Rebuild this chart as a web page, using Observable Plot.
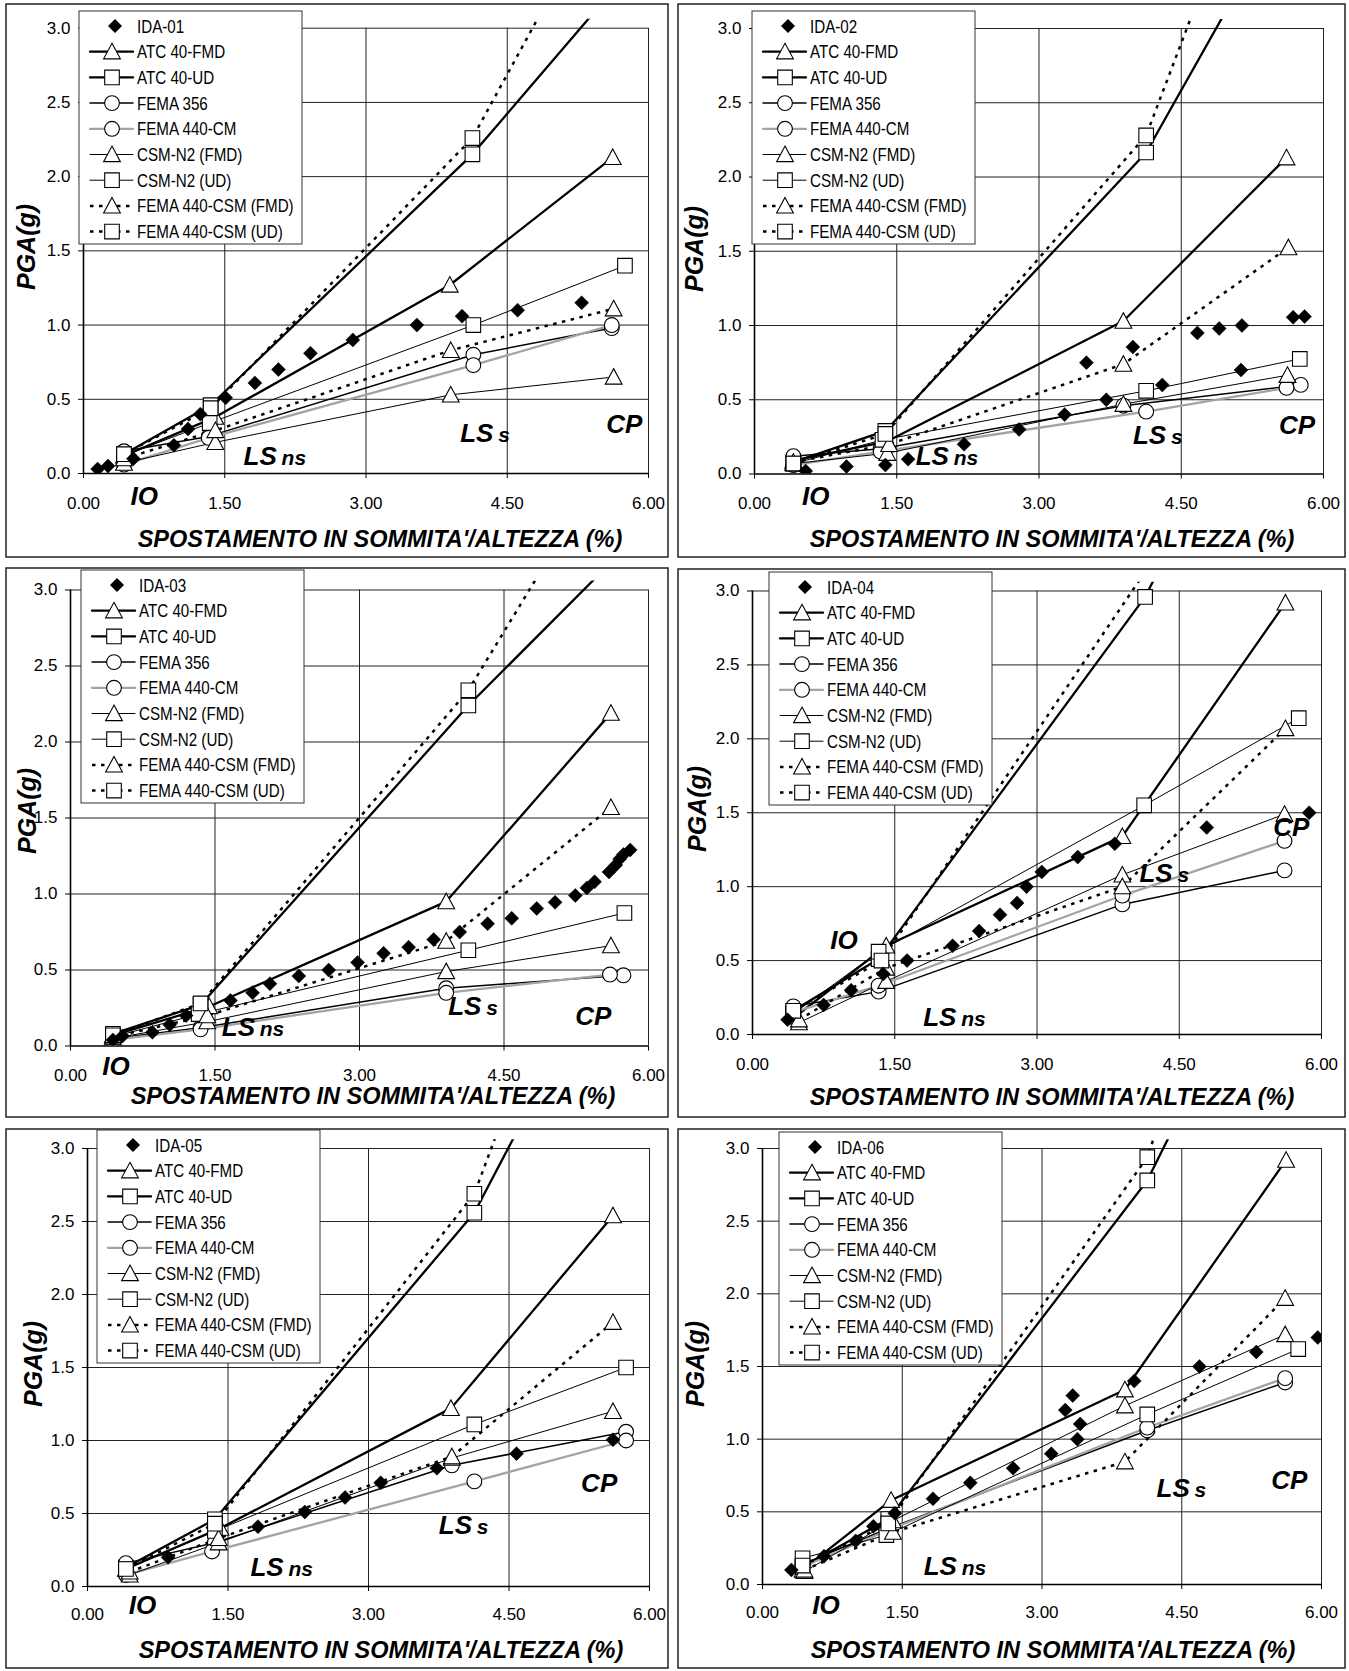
<!DOCTYPE html>
<html><head><meta charset="utf-8">
<script src="https://cdn.jsdelivr.net/npm/d3@7"></script>
<script src="https://cdn.jsdelivr.net/npm/@observablehq/plot@0.6"></script>
<style>
body{margin:0;background:#fff;}
#root{position:relative;width:1349px;height:1671px;background:#fff;overflow:hidden;}
.pl{position:absolute;}
#ov{position:absolute;left:0;top:0;pointer-events:none;}
</style></head><body><div id="root"></div>
<script>
// ---------------- DATA ----------------
const methodNames = ["ATC 40-FMD","ATC 40-UD","FEMA 356","FEMA 440-CM","CSM-N2 (FMD)","CSM-N2 (UD)","FEMA 440-CSM (FMD)","FEMA 440-CSM (UD)"];
const levelNames = ["IO","LSns","LSs","CP"];
const xTicks = [0, 1.5, 3, 4.5, 6];
const yTicks = [0, 0.5, 1, 1.5, 2, 2.5, 3];
const xTitle = "SPOSTAMENTO IN SOMMITA'/ALTEZZA (%)";
const yTitle = "PGA(g)";
const idaNames = ["IDA-01","IDA-02","IDA-03","IDA-04","IDA-05","IDA-06"];

// IDA curves (x = drift %, y = PGA g)
const ida01 = [[0.15,0.03],[0.26,0.05],[0.53,0.10],[0.96,0.19],[1.11,0.30],[1.24,0.40],[1.51,0.51],[1.82,0.61],[2.07,0.70],[2.41,0.81],[2.86,0.90],[3.54,1.00],[4.02,1.06],[4.61,1.10],[5.29,1.15]];
const ida02 = [[0.54,0.02],[0.97,0.05],[1.38,0.06],[1.62,0.10],[2.21,0.20],[2.79,0.30],[3.27,0.40],[3.71,0.50],[3.50,0.75],[3.99,0.855],[4.30,0.60],[4.67,0.95],[4.90,0.98],[5.14,1.00],[5.13,0.70],[5.68,1.055],[5.80,1.06]];
const ida03 = [[0.44,0.04],[0.54,0.066],[0.85,0.09],[1.03,0.14],[1.20,0.20],[1.66,0.30],[1.89,0.35],[2.07,0.41],[2.37,0.46],[2.68,0.50],[2.98,0.55],[3.25,0.61],[3.51,0.65],[3.77,0.70],[4.04,0.75],[4.33,0.805],[4.58,0.84],[4.84,0.905],[5.03,0.945],[5.24,0.99],[5.36,1.04],[5.44,1.08],[5.59,1.145],[5.66,1.19],[5.70,1.23],[5.74,1.26],[5.81,1.29]];
const ida04 = [[0.37,0.10],[0.75,0.20],[1.04,0.30],[1.38,0.41],[1.63,0.50],[2.11,0.60],[2.39,0.70],[2.61,0.81],[2.79,0.89],[2.89,1.00],[3.05,1.10],[3.43,1.20],[3.82,1.29],[4.79,1.40],[5.87,1.50]];
const ida05 = [[0.86,0.20],[1.82,0.41],[2.32,0.51],[2.75,0.61],[3.13,0.71],[3.73,0.81],[4.58,0.91],[5.61,1.005]];
const ida06 = [[0.31,0.10],[0.66,0.195],[1.00,0.30],[1.19,0.40],[1.42,0.49],[1.83,0.59],[2.23,0.70],[2.69,0.80],[3.10,0.90],[3.25,1.20],[3.33,1.30],[3.38,1.00],[3.41,1.105],[3.99,1.40],[4.69,1.50],[5.30,1.60],[5.96,1.70]];

// Performance points (IO, LSns, LSs, CP) per method, in methodNames order
const methods01 = [
  [[0.43,0.12],[1.40,0.38],[3.89,1.27],[5.62,2.13]],
  [[0.43,0.13],[1.35,0.46],[4.13,2.15],[5.75,3.35]],
  [[0.43,0.15],[1.33,0.25],[4.14,0.80],[5.61,0.98]],
  [[0.43,0.06],[1.33,0.24],[4.14,0.73],[5.61,1.00]],
  [[0.43,0.07],[1.40,0.21],[3.90,0.53],[5.63,0.65]],
  [[0.43,0.12],[1.34,0.34],[4.14,1.00],[5.75,1.40]],
  [[0.43,0.10],[1.40,0.29],[3.90,0.83],[5.63,1.11]],
  [[0.43,0.13],[1.35,0.44],[4.13,2.26],[5.75,4.14]]
];
const methods02 = [
  [[0.41,0.09],[1.40,0.22],[3.89,1.03],[5.61,2.13]],
  [[0.41,0.08],[1.38,0.29],[4.13,2.165],[5.75,4.00]],
  [[0.41,0.12],[1.33,0.17],[3.89,0.46],[5.76,0.60]],
  [[0.41,0.06],[1.33,0.15],[4.13,0.42],[5.61,0.58]],
  [[0.41,0.07],[1.40,0.14],[3.89,0.47],[5.62,0.665]],
  [[0.41,0.07],[1.35,0.23],[4.13,0.56],[5.75,0.775]],
  [[0.41,0.08],[1.42,0.20],[3.89,0.74],[5.63,1.525]],
  [[0.41,0.07],[1.38,0.27],[4.13,2.28],[5.75,5.00]]
];
const methods03 = [
  [[0.44,0.07],[1.44,0.26],[3.90,0.95],[5.61,2.19]],
  [[0.44,0.08],[1.35,0.27],[4.13,2.24],[5.75,3.27]],
  [[0.44,0.05],[1.35,0.12],[3.90,0.38],[5.74,0.465]],
  [[0.44,0.04],[1.35,0.11],[3.90,0.35],[5.60,0.47]],
  [[0.44,0.05],[1.42,0.16],[3.90,0.49],[5.61,0.66]],
  [[0.44,0.06],[1.33,0.21],[4.13,0.63],[5.75,0.875]],
  [[0.44,0.06],[1.42,0.20],[3.90,0.69],[5.61,1.57]],
  [[0.44,0.07],[1.35,0.28],[4.13,2.34],[5.75,4.03]]
];
const methods04 = [
  [[0.45,0.12],[1.41,0.60],[3.90,1.34],[5.62,2.92]],
  [[0.43,0.16],[1.33,0.51],[4.14,2.96],[5.75,5.00]],
  [[0.43,0.19],[1.33,0.29],[3.90,0.88],[5.61,1.11]],
  [[0.43,0.15],[1.33,0.33],[3.90,0.94],[5.61,1.31]],
  [[0.49,0.08],[1.41,0.36],[3.90,1.08],[5.61,1.49]],
  [[0.43,0.14],[1.33,0.56],[4.13,1.55],[5.76,2.14]],
  [[0.49,0.10],[1.41,0.45],[3.90,1.00],[5.62,2.07]],
  [[0.43,0.16],[1.36,0.50],[4.13,3.12],[5.75,6.00]]
];
const methods05 = [
  [[0.41,0.12],[1.42,0.40],[3.88,1.22],[5.61,2.54]],
  [[0.41,0.13],[1.36,0.46],[4.13,2.56],[5.75,4.54]],
  [[0.41,0.16],[1.36,0.30],[3.89,0.83],[5.75,1.06]],
  [[0.41,0.08],[1.33,0.24],[4.13,0.72],[5.75,1.00]],
  [[0.45,0.08],[1.40,0.30],[3.89,0.88],[5.61,1.20]],
  [[0.41,0.12],[1.36,0.38],[4.13,1.11],[5.75,1.50]],
  [[0.45,0.10],[1.40,0.33],[3.89,0.89],[5.61,1.81]],
  [[0.41,0.12],[1.36,0.43],[4.13,2.69],[5.75,5.48]]
];
const methods06 = [
  [[0.43,0.10],[1.38,0.58],[3.89,1.34],[5.62,2.92]],
  [[0.43,0.12],[1.35,0.45],[4.13,2.78],[5.75,4.87]],
  [[0.43,0.14],[1.33,0.38],[4.13,1.06],[5.61,1.39]],
  [[0.43,0.12],[1.33,0.37],[4.13,1.08],[5.61,1.42]],
  [[0.45,0.09],[1.40,0.44],[3.89,1.23],[5.61,1.72]],
  [[0.43,0.18],[1.33,0.34],[4.13,1.17],[5.75,1.62]],
  [[0.45,0.10],[1.40,0.36],[3.89,0.845],[5.61,1.97]],
  [[0.43,0.13],[1.35,0.42],[4.13,2.94],[5.75,6.00]]
];

// Limit-state annotation anchors (x, y in data units): IO, LS ns, LS s, CP
const notes01 = [[0.50,-0.21],[1.70,0.06],[4.00,0.21],[5.55,0.27]];
const notes02 = [[0.50,-0.21],[1.70,0.064],[3.99,0.205],[5.53,0.27]];
const notes03 = [[0.33,-0.19],[1.57,0.066],[3.92,0.206],[5.24,0.136]];
const notes04 = [[0.82,0.58],[1.80,0.06],[4.08,1.03],[5.49,1.34]];
const notes05 = [[0.44,-0.19],[1.74,0.07],[3.75,0.36],[5.27,0.645]];
const notes06 = [[0.535,-0.20],[1.73,0.066],[4.23,0.60],[5.46,0.66]];

// ---------------- STYLE / LAYOUT ----------------
const Y_MAX = 3.06;
const sym = {
  diamond: {draw(c,s){const r=Math.sqrt(s/Math.PI);c.moveTo(0,-r);c.lineTo(r,0);c.lineTo(0,r);c.lineTo(-r,0);c.closePath();}},
  square: {draw(c,s){const r=Math.sqrt(s/Math.PI);c.rect(-r,-r,2*r,2*r);}},
  circle: {draw(c,s){const r=Math.sqrt(s/Math.PI);c.moveTo(r,0);c.arc(0,0,r,0,2*Math.PI);}},
  triangle: {draw(c,s){const r=Math.sqrt(s/Math.PI);c.moveTo(0,-r);c.lineTo(r,r*0.85);c.lineTo(-r,r*0.85);c.closePath();}}
};
const symR = {diamond:7, square:7.3, circle:7.4, triangle:8.4};
const STY = [
  {color:"#000", w:2.3, dash:null, s:"triangle"},
  {color:"#000", w:2.3, dash:null, s:"square"},
  {color:"#000", w:1.5, dash:null, s:"circle"},
  {color:"#a3a3a3", w:2.3, dash:null, s:"circle"},
  {color:"#000", w:1, dash:null, s:"triangle"},
  {color:"#000", w:1, dash:null, s:"square"},
  {color:"#000", w:2.5, dash:"3.5,5.5", s:"triangle"},
  {color:"#000", w:2.5, dash:"3.5,5.5", s:"square"}
];

const panels = [
  {ida:ida01, methods:methods01, notes:notes01, name:idaNames[0], box:[6,4,668,557], x0:83, x6:648, y0:473, y3:27.7, xpad:18,
   legend:[79,11], xt:[380,547], yt:[35,247]},
  {ida:ida02, methods:methods02, notes:notes02, name:idaNames[1], box:[678,4,1345,557], x0:754, x6:1323, y0:473.5, y3:28, xpad:18,
   legend:[752,11], xt:[1052,547], yt:[703,249]},
  {ida:ida03, methods:methods03, notes:notes03, name:idaNames[2], box:[6,568,668,1117], x0:70, x6:648, y0:1045.5, y3:589.5, xpad:18,
   legend:[81,570], xt:[373,1104], yt:[36,811]},
  {ida:ida04, methods:methods04, notes:notes04, name:idaNames[3], box:[678,569,1345,1117], x0:752, x6:1321, y0:1034, y3:590.5, xpad:18,
   legend:[769,572], xt:[1052,1105], yt:[706,809]},
  {ida:ida05, methods:methods05, notes:notes05, name:idaNames[4], box:[6,1129,668,1668], x0:87, x6:649, y0:1586, y3:1148, xpad:16,
   legend:[97,1130], xt:[381,1658], yt:[42,1364]},
  {ida:ida06, methods:methods06, notes:notes06, name:idaNames[5], box:[678,1129,1345,1668], x0:762, x6:1321, y0:1584, y3:1148, xpad:16,
   legend:[779,1132], xt:[1053,1658], yt:[704,1364]}
];

const root = document.getElementById("root");
const FONT = "'Liberation Sans', Arial, Helvetica, sans-serif";

function toObj(arr){return arr.map(([x,y])=>({x,y}));}

panels.forEach(p => {
  const [L,T,R,B] = p.box;
  const W = R-L, H = B-T;
  const ppu = (p.y0-p.y3)/3;
  const yTopPx = p.y0 - Y_MAX*ppu;
  const marks = [
    Plot.ruleY(yTicks.slice(1), {x1:0, x2:6, stroke:"#222", strokeWidth:1}),
    Plot.ruleX(xTicks.slice(1), {y1:0, y2:3, stroke:"#222", strokeWidth:1}),
    Plot.ruleX([0], {y1:0, y2:3, stroke:"#000", strokeWidth:1.6}),
    Plot.ruleY([0], {x1:0, x2:6, stroke:"#000", strokeWidth:1.6})
  ];
  p.methods.forEach((pts,i) => {
    const st = STY[i];
    marks.push(Plot.line(toObj(pts), {x:"x", y:"y", stroke:st.color, strokeWidth:st.w,
      strokeDasharray:st.dash || undefined, strokeLinecap: st.dash ? "butt" : "round", strokeLinejoin:"round", clip:true}));
  });
  p.methods.forEach((pts,i) => {
    const st = STY[i];
    marks.push(Plot.dot(toObj(pts), {x:"x", y:"y", symbol:sym[st.s], r:symR[st.s], fill:"#fff", stroke:"#000", strokeWidth:1.1, clip:true}));
  });
  marks.push(Plot.dot(toObj(p.ida), {x:"x", y:"y", symbol:sym.diamond, r:symR.diamond, fill:"#000", stroke:"#000", strokeWidth:0.5, clip:true}));
  // annotations
  const n = p.notes;
  const big = 26, small = 21;
  const bigLabels = [{x:n[0][0],y:n[0][1],t:"IO"},{x:n[1][0],y:n[1][1],t:"LS"},{x:n[2][0],y:n[2][1],t:"LS"},{x:n[3][0],y:n[3][1],t:"CP"}];
  const smallLabels = [{x:n[1][0],y:n[1][1],t:"ns"},{x:n[2][0],y:n[2][1],t:"s"}];
  marks.push(Plot.text(bigLabels, {x:"x", y:"y", text:"t", textAnchor:"start", fontSize:big, fontWeight:"bold", fontStyle:"italic", fill:"#000", dy:-0.32*big}));
  marks.push(Plot.text(smallLabels, {x:"x", y:"y", text:"t", textAnchor:"start", fontSize:small, fontWeight:"bold", fontStyle:"italic", fill:"#000", dx:38, dy:-0.32*small}));

  const chart = Plot.plot({
    width: W, height: H,
    marginLeft: p.x0 - L, marginRight: R - p.x6, marginTop: yTopPx - T, marginBottom: B - p.y0,
    x: {domain:[0,6], ticks:xTicks, tickFormat:d3.format(".2f"), tickSize:5, tickPadding:p.xpad, label:null},
    y: {domain:[0,Y_MAX], ticks:yTicks, tickFormat:d3.format(".1f"), tickSize:5, tickPadding:8, label:null},
    style: {fontFamily:FONT, fontSize:"17px", color:"#000", background:"transparent", overflow:"visible"},
    marks
  });
  chart.classList.add("pl");
  chart.style.left = L + "px";
  chart.style.top = T + "px";
  root.appendChild(chart);
});

// ---------------- OVERLAY: borders, titles, legends ----------------
const ov = d3.select(root).append("svg").attr("id","ov").attr("width",1349).attr("height",1671);
panels.forEach(p => {
  const [L,T,R,B] = p.box;
  ov.append("rect").attr("x",L).attr("y",T).attr("width",R-L).attr("height",B-T)
    .attr("fill","none").attr("stroke","#222").attr("stroke-width",1.5);
  ov.append("text").attr("x",p.xt[0]).attr("y",p.xt[1]).attr("text-anchor","middle")
    .attr("font-family",FONT).attr("font-size",23.5).attr("font-weight","bold").attr("font-style","italic")
    .text(xTitle);
  ov.append("text").attr("transform",`translate(${p.yt[0]},${p.yt[1]}) rotate(-90)`).attr("text-anchor","middle")
    .attr("font-family",FONT).attr("font-size",25).attr("font-weight","bold").attr("font-style","italic")
    .text(yTitle);
  // legend
  const [lx,ly] = p.legend;
  const g = ov.append("g").attr("transform",`translate(${lx},${ly})`);
  g.append("rect").attr("x",0).attr("y",0).attr("width",223).attr("height",233)
    .attr("fill","#fff").attr("stroke","#333").attr("stroke-width",1);
  const rows = [p.name].concat(methodNames);
  rows.forEach((name,k) => {
    const cy = 15 + k*25.7;
    if (k === 0) {
      g.append("path").attr("transform",`translate(36,${cy})`)
        .attr("d", d3.symbol(sym.diamond, Math.PI*symR.diamond*symR.diamond)()).attr("fill","#000");
    } else {
      const st = STY[k-1];
      g.append("line").attr("x1",11).attr("x2",54).attr("y1",cy).attr("y2",cy)
        .attr("stroke",st.color).attr("stroke-width",st.w).attr("stroke-dasharray",st.dash)
        .attr("stroke-linecap", st.dash ? "butt" : "round");
      g.append("path").attr("transform",`translate(33,${cy})`)
        .attr("d", d3.symbol(sym[st.s], Math.PI*symR[st.s]*symR[st.s])())
        .attr("fill","#fff").attr("stroke","#000").attr("stroke-width",1.1);
    }
    g.append("text").attr("transform",`translate(58,${cy+6.5}) scale(0.82,1)`)
      .attr("font-family",FONT).attr("font-size",18.5).attr("fill","#000").text(name);
  });
});
</script></body></html>
